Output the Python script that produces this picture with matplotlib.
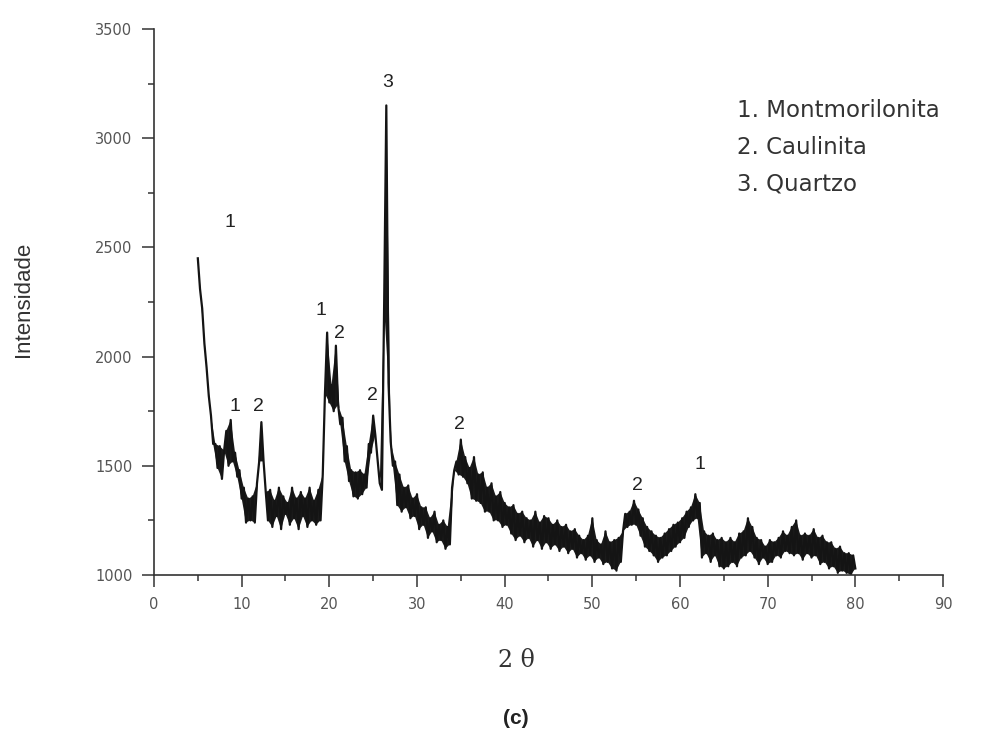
import numpy as np
import matplotlib
matplotlib.use('Agg')
from matplotlib import pyplot as plt
from matplotlib.ticker import MultipleLocator

# XRD trace: 2theta from 5.00 in steps of 0.25
# (the scan is a noisy band, so neighbouring readings swing between its edges)
two_theta_start = 5.0
two_theta_step = 0.25
intensity = [
    2450, 2310, 2220, 2060, 1950, 1820, 1730, 1600,  # 5.00 - 6.75
    1600, 1490, 1590, 1440, 1570, 1660, 1500, 1710,  # 7
    1520, 1560, 1450, 1480, 1350, 1400, 1240, 1350,  # 9
    1250, 1360, 1240, 1420, 1520, 1700, 1520, 1380,  # 11
    1250, 1390, 1220, 1340, 1270, 1400, 1210, 1360,  # 13
    1280, 1330, 1230, 1400, 1260, 1350, 1210, 1380,  # 15
    1270, 1350, 1220, 1400, 1250, 1340, 1230, 1390,  # 17
    1250, 1460, 1830, 2110, 1790, 1870, 1750, 2050,  # 19
    1780, 1690, 1720, 1520, 1590, 1430, 1480, 1360,  # 21
    1470, 1350, 1480, 1370, 1460, 1400, 1600, 1560,  # 23
    1730, 1640, 1530, 1420, 1390, 2230, 3150, 1880,  # 25
    1610, 1500, 1520, 1320, 1460, 1290, 1400, 1310,  # 27
    1410, 1260, 1350, 1270, 1370, 1210, 1310, 1230,  # 29
    1310, 1170, 1260, 1200, 1290, 1150, 1230, 1160,  # 31
    1250, 1120, 1220, 1140, 1400, 1480, 1520, 1460,  # 33
    1620, 1450, 1540, 1420, 1490, 1350, 1540, 1340,  # 35
    1460, 1330, 1470, 1290, 1400, 1290, 1420, 1250,  # 37
    1360, 1250, 1380, 1220, 1330, 1230, 1310, 1190,  # 39
    1320, 1160, 1280, 1180, 1290, 1150, 1260, 1170,  # 41
    1250, 1130, 1290, 1160, 1240, 1120, 1270, 1150,  # 43
    1260, 1120, 1230, 1140, 1250, 1110, 1220, 1130,  # 45
    1230, 1100, 1200, 1120, 1210, 1080, 1180, 1100,  # 47
    1160, 1070, 1180, 1090, 1260, 1060, 1160, 1080,  # 49
    1140, 1050, 1200, 1060, 1150, 1030, 1160, 1020,  # 51
    1170, 1060, 1200, 1280, 1220, 1290, 1230, 1340,  # 53
    1230, 1300, 1180, 1260, 1130, 1220, 1110, 1200,  # 55
    1090, 1180, 1060, 1170, 1080, 1190, 1090, 1210,  # 57
    1110, 1230, 1130, 1240, 1150, 1260, 1170, 1290,  # 59
    1220, 1310, 1250, 1370, 1260, 1330, 1080, 1200,  # 61
    1100, 1180, 1060, 1190, 1090, 1160, 1040, 1170,  # 63
    1030, 1150, 1040, 1170, 1060, 1150, 1040, 1190,  # 65
    1080, 1200, 1090, 1260, 1110, 1220, 1080, 1170,  # 67
    1050, 1160, 1080, 1130, 1050, 1160, 1060, 1150,  # 69
    1090, 1170, 1080, 1200, 1110, 1180, 1100, 1220,  # 71
    1090, 1250, 1100, 1180, 1070, 1190, 1100, 1180,  # 73
    1080, 1210, 1090, 1170, 1050, 1180, 1060, 1150,  # 75
    1030, 1150, 1040, 1120, 1010, 1130, 1020, 1100,  # 77
    1010, 1100, 1000, 1090,                          # 79
    1030,                                            # 80
]

# peak markers (phase number) and where they sit
peak_labels = ['1', '1', '2', '1', '2', '2', '3', '2', '2', '1']
peak_x = [8.7, 9.2, 11.9, 19.1, 21.2, 24.9, 26.7, 34.8, 55.1, 62.3]
peak_y = [2616, 1770, 1770, 2213, 2107, 1824, 3253, 1687, 1412, 1504]

legend_lines = ['1. Montmorilonita', '2. Caulinita', '3. Quartzo']

two_theta = two_theta_start + two_theta_step * np.arange(len(intensity))
counts = np.array(intensity, dtype=float)

fig = plt.figure(figsize=(9.89, 7.39), dpi=100)
ax = fig.add_axes([0.1557, 0.2219, 0.7978, 0.7389])

# shade the noise band: forward along one set of readings, back along the other
band_x = np.concatenate([two_theta[0::2], two_theta[1::2][::-1]])
band_y = np.concatenate([counts[0::2], counts[1::2][::-1]])
ax.fill(band_x, band_y, color='#1b1b1b', lw=0)
ax.plot(two_theta, counts, color='#141414', lw=1.6)

ax.set_xlim(0, 90)
ax.set_ylim(1000, 3500)
ax.xaxis.set_major_locator(MultipleLocator(10))
ax.xaxis.set_minor_locator(MultipleLocator(5))
ax.yaxis.set_major_locator(MultipleLocator(500))
ax.yaxis.set_minor_locator(MultipleLocator(250))

for side in ['top', 'right']:
    ax.spines[side].set_visible(False)
for side in ['left', 'bottom']:
    ax.spines[side].set_color('#333333')
    ax.spines[side].set_linewidth(1.2)

ax.tick_params(which='major', direction='out', length=8.5, width=1.1, color='#333333',
               labelsize=10.5, labelcolor='#555555', pad=7)
ax.tick_params(which='minor', direction='out', length=4.5, width=1.1, color='#333333')
for lab in ax.get_xticklabels() + ax.get_yticklabels():
    lab.set_family('DejaVu Sans')

ax.set_ylabel('Intensidade', family='Liberation Sans', fontsize=16, color='#333333')
ax.yaxis.set_label_coords(-0.165, 0.504)
ax.set_xlabel('2 θ', family='DejaVu Serif', fontsize=17, color='#333333')
ax.xaxis.set_label_coords(0.459, -0.156)
ax.xaxis.label.set_va('center')
ax.yaxis.label.set_va('center')

for lab, x, y in zip(peak_labels, peak_x, peak_y):
    ax.text(x, y, lab, ha='center', va='center', fontsize=14,
            family='Liberation Sans', color='#222222')

for i, line in enumerate(legend_lines):
    ax.text(66.5, 3129 - i * 170, line, ha='left', va='center', fontsize=16.5,
            family='DejaVu Sans', color='#333333')

fig.text(0.522, 0.028, '(c)', ha='center', va='center', fontsize=15,
         fontweight='bold', family='Liberation Sans', color='#222222')

fig.savefig('out.png', dpi=100)
plt.close()
